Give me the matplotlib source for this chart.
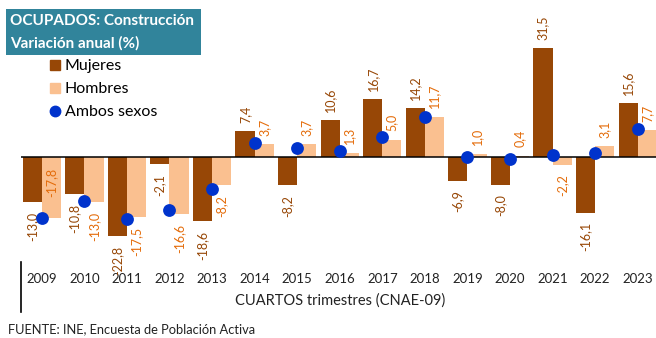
import numpy as np
import matplotlib
matplotlib.use("Agg")
import matplotlib.pyplot as plt
from matplotlib.patches import Rectangle
from matplotlib.lines import Line2D

plt.rcParams['font.family'] = ['Lato', 'DejaVu Sans']

# variacion anual (%) de ocupados en construccion, cuartos trimestres
years = ['2009', '2010', '2011', '2012', '2013', '2014', '2015', '2016',
         '2017', '2018', '2019', '2020', '2021', '2022', '2023']
mujeres = [-13.0, -10.8, -22.8, -2.1, -18.6, 7.4, -8.2, 10.6,
           16.7, 14.2, -6.9, -8.0, 31.5, -16.1, 15.6]
hombres = [-17.8, -13.0, -17.5, -16.6, -8.2, 3.7, 3.7, 1.3,
           5.0, 11.7, 1.0, 0.4, -2.2, 3.1, 7.7]
ambos = [-17.6, -12.8, -18.0, -15.5, -9.4, 4.0, 2.7, 1.8,
         5.8, 11.7, 0.1, -0.6, 0.5, 1.1, 8.1]

C_MUJ = '#974706'
C_HOM = '#FAC090'
C_MUJ_TXT = '#974706'
C_HOM_TXT = '#E46C0A'
C_DOT = '#0033CC'
C_TITLE = '#31849B'

W, H = 656, 338
fig = plt.figure(figsize=(W / 100, H / 100), dpi=100)

def fx(px):
    return px / W

def fy(py):
    return 1 - py / H

# axes in pixel terms: left 20.5, right 659, top 10, bottom 262
ax_l, ax_r, ax_t, ax_b = 20.5, 659.0, 10.0, 262.0
ax = fig.add_axes([fx(ax_l), fy(ax_b), fx(ax_r - ax_l), (ax_b - ax_t) / H])
px_per_unit = 3.45
zero_py = 157.0
ax.set_ylim(-(ax_b - zero_py) / px_per_unit, (zero_py - ax_t) / px_per_unit)
ax.set_xlim(-0.5, len(years) - 0.5)

x = np.arange(len(years))
bw = 0.45
ax.bar(x - bw / 2, mujeres, bw, color=C_MUJ, zorder=2)
ax.bar(x + bw / 2, hombres, bw, color=C_HOM, zorder=2)
ax.scatter(x, ambos, s=85, color=C_DOT, zorder=4, linewidths=0)

ax.axhline(0, color='black', lw=1.1, zorder=3, xmax=(656 - ax_l) / (ax_r - ax_l))


def fmt(v):
    return f'{v:.1f}'.replace('.', ',')


def put_label(xpos, v, color, inside=False):
    if inside:
        # etiqueta metida dentro de la barra, junto al eje
        ax.annotate(fmt(v), (xpos, 0), xytext=(0, -8), textcoords='offset points',
                    rotation=90, ha='center', va='top', color=color, fontsize=9)
        return
    off = 6 if v >= 0 else -7
    ax.annotate(fmt(v), (xpos, v), xytext=(0, off), textcoords='offset points',
                rotation=90, ha='center', va='bottom' if v >= 0 else 'top',
                color=color, fontsize=9, annotation_clip=False)


for i in range(len(years)):
    put_label(x[i] - bw / 2, mujeres[i], C_MUJ_TXT)
    put_label(x[i] + bw / 2, hombres[i], C_HOM_TXT, inside=(i == 0))

for s in ax.spines.values():
    s.set_visible(False)
ax.set_yticks([])
ax.set_xticks(x)
ax.set_xticklabels(years, fontsize=9.5, color='#222222')
ax.tick_params(axis='x', length=0, pad=8)
ax.set_xlabel('CUARTOS trimestres (CNAE-09)', fontsize=10.5, color='#222222', labelpad=6)

# linea vertical a la izquierda del eje de categorias
fig.add_artist(Line2D([fx(21), fx(21)], [fy(262), fy(312)], color='black', lw=1.2))

# cuadro de titulo
fig.add_artist(Rectangle((fx(6), fy(55)), fx(195), 46 / H, color=C_TITLE, lw=0))
fig.text(fx(10), fy(21), 'OCUPADOS: Construcción', color='white', fontsize=11,
         fontweight='bold', va='center', ha='left')
fig.text(fx(10), fy(43), 'Variación anual (%)', color='white', fontsize=11,
         fontweight='bold', va='center', ha='left')

# leyenda
handles = [Line2D([], [], marker='s', ls='none', color=C_MUJ, markersize=7.5),
           Line2D([], [], marker='s', ls='none', color=C_HOM, markersize=7.5),
           Line2D([], [], marker='o', ls='none', color=C_DOT, markersize=7.5)]
fig.legend(handles, ['Mujeres', 'Hombres', 'Ambos sexos'], loc='upper left',
           bbox_to_anchor=(fx(49), fy(59)), frameon=False, fontsize=11.5,
           handlelength=0.7, handletextpad=0.3, labelspacing=0.56,
           borderpad=0, borderaxespad=0)

fig.text(fx(8), fy(329), 'FUENTE: INE, Encuesta de Población Activa', fontsize=9.3,
         color='#222222', va='center', ha='left')

fig.savefig('out.png', dpi=100)
